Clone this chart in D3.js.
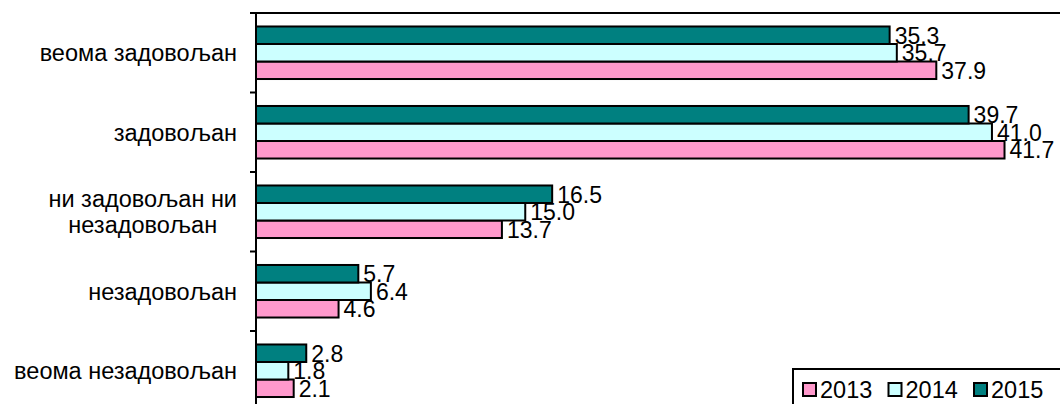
<!DOCTYPE html>
<html>
<head>
<meta charset="utf-8">
<script src="https://cdn.jsdelivr.net/npm/d3@7"></script>
<style>
  body { margin: 0; background: #fff; }
  svg { display: block; font-family: "Liberation Sans", Arial, sans-serif; }
</style>
</head>
<body>
<div id="chart"></div>
<script>
var
    width = 1060,
    height = 404;

// categories top to bottom, labels may wrap on "|"
var categories = ["веома задовољан", "задовољан", "ни задовољан ни|незадовољан", "незадовољан", "веома незадовољан"];
var years = ["2013", "2014", "2015"];
var v2013 = [37.9, 41.7, 13.7, 4.6, 2.1];
var v2014 = [35.7, 41.0, 15.0, 6.4, 1.8];
var v2015 = [35.3, 39.7, 16.5, 5.7, 2.8];

var colors = { "2013": "#ff99cc", "2014": "#ccffff", "2015": "#008080" };

var series = [
  { year: "2013", values: v2013 },
  { year: "2014", values: v2014 },
  { year: "2015", values: v2015 }
];

var svg = d3.select("#chart")
        .append("svg")
        .attr("width", width)
        .attr("height", height);

var axisX = 256, plotTop = 13;

var x = d3.scaleLinear()
    .domain([0, 45])
    .range([axisX, axisX + 45 * 17.95]);

var y0 = d3.scaleBand()
    .domain(categories)
    .range([plotTop, plotTop + 79.5 * categories.length]);

// 2015 on top, then 2014, then 2013
var y1 = d3.scaleBand()
    .domain(["2015", "2014", "2013"])
    .range([0, y0.bandwidth()])
    .paddingOuter(0.77);

// plot top border
svg.append("line")
    .attr("x1", axisX - 6).attr("x2", width)
    .attr("y1", plotTop).attr("y2", plotTop)
    .attr("stroke", "#000").attr("stroke-width", 2);

function rows(s) {
  return s.values.map(function(v, i) { return { year: s.year, value: v, cat: categories[i] }; });
}

// bars
var groups = svg.append("g").selectAll("g")
    .data(series)
    .enter().append("g");

groups.selectAll("rect")
    .data(rows)
    .enter().append("rect")
      .attr("x", x(0))
      .attr("y", function(d) { return y0(d.cat) + y1(d.year); })
      .attr("width", function(d) { return x(d.value) - x(0); })
      .attr("height", y1.bandwidth())
      .attr("fill", function(d) { return colors[d.year]; })
      .attr("stroke", "#000")
      .attr("stroke-width", 2);

groups.selectAll("text")
    .data(rows)
    .enter().append("text")
      .attr("x", function(d) { return x(d.value) + 5; })
      .attr("y", function(d) { return y0(d.cat) + y1(d.year) + y1.bandwidth() / 2; })
      .attr("dy", "0.36em")
      .attr("font-size", 23)
      .attr("fill", "#000")
      .text(function(d) { return d3.format(".1f")(d.value); });

// y axis
svg.append("line")
    .attr("x1", axisX).attr("x2", axisX)
    .attr("y1", plotTop).attr("y2", height + 10)
    .attr("stroke", "#000").attr("stroke-width", 2);

var edges = categories.map(function(c) { return y0(c); }).concat([y0.range()[1]]);
svg.append("g").selectAll("line")
    .data(edges)
    .enter().append("line")
      .attr("x1", axisX - 6).attr("x2", axisX)
      .attr("y1", function(d) { return d; }).attr("y2", function(d) { return d; })
      .attr("stroke", "#000").attr("stroke-width", 2);

// category labels, right aligned block, lines centred in block
var labelRight = 237;
categories.forEach(function(c) {
  var lines = c.split("|");
  var t = svg.append("text")
      .attr("font-size", 23.5)
      .attr("fill", "#000");
  var cy = y0(c) + y0.bandwidth() / 2;
  var lh = 26;
  lines.forEach(function(l, k) {
    t.append("tspan")
      .attr("x", 0)
      .attr("y", cy + (k - (lines.length - 1) / 2) * lh)
      .attr("dy", "0.36em")
      .text(l);
  });
  if (lines.length === 1) {
    t.attr("text-anchor", "end").selectAll("tspan").attr("x", labelRight);
  } else {
    var w = t.node().getBBox().width;
    t.attr("text-anchor", "middle").selectAll("tspan").attr("x", labelRight - w / 2);
  }
});

// legend
var legend = svg.append("g").attr("transform", "translate(793,369)");
legend.append("rect")
    .attr("width", 300).attr("height", 60)
    .attr("fill", "#fff").attr("stroke", "#000").attr("stroke-width", 2);

var item = legend.selectAll("g")
    .data(years)
    .enter().append("g")
      .attr("transform", function(d, i) { return "translate(" + (10 + i * 85.5) + ",0)"; });

item.append("rect")
    .attr("x", 0).attr("y", 14)
    .attr("width", 13).attr("height", 13)
    .attr("fill", function(d) { return colors[d]; })
    .attr("stroke", "#000").attr("stroke-width", 2);

item.append("text")
    .attr("x", 17).attr("y", 20.5)
    .attr("dy", "0.36em")
    .attr("font-size", 23.5)
    .text(function(d) { return d; });
</script>
</body>
</html>
